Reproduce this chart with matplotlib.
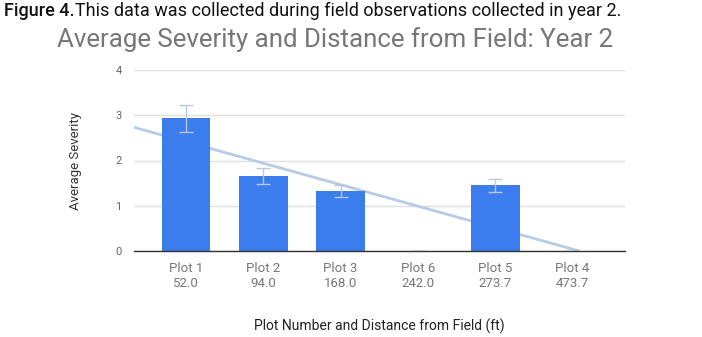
import matplotlib
matplotlib.use("Agg")
import matplotlib.pyplot as plt
import numpy as np

categories = ["Plot 1\n52.0", "Plot 2\n94.0", "Plot 3\n168.0", "Plot 6\n242.0", "Plot 5\n273.7", "Plot 4\n473.7"]
severity = [2.93, 1.66, 1.33, 0.0, 1.45, 0.0]
errors = [0.30, 0.17, 0.13, 0.0, 0.15, 0.0]
yticks = [0, 1, 2, 3, 4]

plt.rcParams['font.family'] = ['Roboto', 'DejaVu Sans']

fig = plt.figure(figsize=(7.02, 3.37), dpi=100)
ax = fig.add_axes([134/702, 1-251/337, (625-134)/702, (251-70)/337])

x = np.arange(len(categories))
ax.bar(x, severity, width=0.63, color='#3b7ded', zorder=3)
ax.errorbar(x, severity, yerr=errors, fmt='none', ecolor='#b8c8e0', elinewidth=1,
            capsize=5, capthick=1, zorder=4)

# linear trendline
xl = (-0.673, 5.68)
m, b = np.polyfit(x, severity, 1)
x_end = min(-b / m, xl[1]) if m < 0 else xl[1]
xs = np.array([xl[0], x_end])
ax.plot(xs, m * xs + b, color='#b9cbe6', lw=2, zorder=2, solid_capstyle='butt')

ax.set_xlim(*xl)
ax.set_ylim(0, 4)
ax.set_yticks(yticks)
ax.set_yticklabels([str(t) for t in yticks], fontsize=8, color='#666666')
ax.set_xticks(x)
ax.set_xticklabels(categories, fontsize=9.5, color='#777777', linespacing=1.15)
ax.tick_params(axis='both', length=0)
ax.tick_params(axis='y', pad=9)
ax.tick_params(axis='x', pad=8)
ax.grid(axis='y', color='#e0e0e0', lw=1, zorder=0)
for s in ['top', 'right', 'left']:
    ax.spines[s].set_visible(False)
ax.spines['bottom'].set_color('#333333')
ax.spines['bottom'].set_linewidth(1)
ax.spines['bottom'].set_zorder(5)

ax.set_ylabel("Average Severity", fontsize=9.5, color='#333333', labelpad=24)
ax.set_xlabel("Plot Number and Distance from Field (ft)", fontsize=10, color='#222222', labelpad=21)

fig.text(335/702, 1-40/337, "Average Severity and Distance from Field: Year 2",
         ha='center', va='center', fontsize=18.6, color='#777777')

# caption
cap_y = 1 - 11/337
t1 = fig.text(4/702, cap_y, "Figure 4.", ha='left', va='center', fontsize=13,
              color='#111111', fontweight='medium')
fig.canvas.draw()
bb = t1.get_window_extent(renderer=fig.canvas.get_renderer())
t2 = fig.text(bb.x1 / fig.bbox.width, cap_y,
              "This data was collected during field observations collected in year 2.",
              ha='left', va='center', fontsize=13, color='#111111')

fig.savefig("out.png", dpi=100)
